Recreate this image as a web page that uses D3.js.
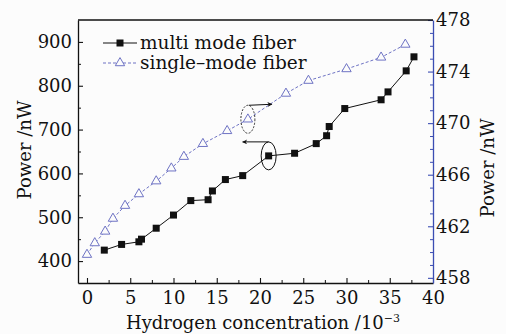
<!DOCTYPE html>
<html><head><meta charset="utf-8">
<script src="https://cdnjs.cloudflare.com/ajax/libs/d3/7.8.5/d3.min.js"></script>
<style>body{margin:0;background:#fcfcfc;} svg{display:block;font-family:"DejaVu Serif",serif;}</style>
</head><body><svg id="c" width="506" height="334"></svg>
<script>
const multiX = [2, 4, 6, 6.3, 8, 10, 12, 14, 14.5, 16, 18, 21, 24, 26.5, 27.7, 28, 29.8, 34, 34.8, 36.9, 37.8];
const multiY = [425, 438, 444, 450, 475, 505, 538, 540, 560, 586, 595, 640, 646, 668, 686, 707, 748, 768, 786, 834, 866];
const singleX = [0, 0.9, 2.1, 3.0, 4.4, 6.0, 8.0, 9.75, 11.2, 13.4, 16.2, 18.6, 23.0, 25.6, 30.0, 34.0, 36.8];
const singleY = [459.8, 460.7, 461.6, 462.6, 463.6, 464.5, 465.5, 466.5, 467.4, 468.4, 469.4, 470.3, 472.3, 473.3, 474.2, 475.1, 476.1];
const xTicks = [0, 5, 10, 15, 20, 25, 30, 35, 40];
const leftTicks = [400, 500, 600, 700, 800, 900];
const rightTicks = [458, 462, 466, 470, 474, 478];
const legendLabels = ["multi mode fiber", "single\u2013mode fiber"];
const xTitle = "Hydrogen concentration /10";
const yTitle = "Power /nW";

const L = 78, R = 433, T = 20, B = 283;
const blue = "#6e73c4", axisBlue = "#3b4db3";
const svg = d3.select("#c");
const x = d3.scaleLinear().domain([-1.04, 40]).range([L, R]);
const yL = d3.scaleLinear().domain([350, 950]).range([B, T]);
const yR = d3.scaleLinear().domain([457.6, 478]).range([B, T]);

const fs = 18;
const xMinor = d3.range(2.5, 40, 5);
const lMinor = d3.range(450, 950, 100);
const rMinor = d3.range(459, 478, 1).filter(v => (v - 458) % 4 !== 0);

function styleAxis(g, color) {
  g.select(".domain").attr("stroke", color).attr("stroke-width", 1.3);
  g.selectAll(".tick line").attr("stroke", color).attr("stroke-width", 1.1);
  g.selectAll(".tick text").attr("fill", "#111").attr("font-size", fs).attr("font-family", "DejaVu Serif");
}
const gx = svg.append("g").attr("transform", `translate(0,${B})`)
  .call(d3.axisBottom(x).tickValues(xTicks).tickSizeInner(-5).tickSizeOuter(0).tickPadding(8).tickFormat(d3.format("d")));
styleAxis(gx, "#111");
svg.append("g").attr("transform", `translate(0,${B})`)
  .call(d3.axisBottom(x).tickValues(xMinor).tickSizeInner(-3).tickSizeOuter(0).tickFormat(""))
  .call(g => { g.select(".domain").remove(); g.selectAll("line").attr("stroke", "#111"); });
const gl = svg.append("g").attr("transform", `translate(${L},0)`)
  .call(d3.axisLeft(yL).tickValues(leftTicks).tickSizeInner(-5).tickSizeOuter(0).tickPadding(6).tickFormat(d3.format("d")));
styleAxis(gl, "#111");
svg.append("g").attr("transform", `translate(${L},0)`)
  .call(d3.axisLeft(yL).tickValues(lMinor).tickSizeInner(-3).tickSizeOuter(0).tickFormat(""))
  .call(g => { g.select(".domain").remove(); g.selectAll("line").attr("stroke", "#111"); });
const gr = svg.append("g").attr("transform", `translate(${R},0)`)
  .call(d3.axisRight(yR).tickValues(rightTicks).tickSizeInner(-5).tickSizeOuter(0).tickPadding(3).tickFormat(d3.format("d")));
styleAxis(gr, axisBlue);
svg.append("g").attr("transform", `translate(${R},0)`)
  .call(d3.axisRight(yR).tickValues(rMinor).tickSizeInner(-3).tickSizeOuter(0).tickFormat(""))
  .call(g => { g.select(".domain").remove(); g.selectAll("line").attr("stroke", axisBlue); });
svg.append("line").attr("x1", L).attr("x2", R).attr("y1", T).attr("y2", T).attr("stroke", "#111").attr("stroke-width", 1.3);

svg.append("text").attr("transform", `translate(31,150) rotate(-90)`).attr("text-anchor", "middle")
  .attr("font-size", fs).attr("fill", "#111").text(yTitle);
svg.append("text").attr("transform", `translate(494,168) rotate(-90)`).attr("text-anchor", "middle")
  .attr("font-size", fs).attr("fill", "#111").text(yTitle);
const xt = svg.append("text").attr("x", 263).attr("y", 329).attr("text-anchor", "middle").attr("font-size", fs).attr("fill", "#111");
xt.append("tspan").text(xTitle);
xt.append("tspan").attr("dy", -7).attr("font-size", 11).text("\u22123");

const single = singleX.map((v, i) => [v, singleY[i]]);
svg.append("path").datum(single).attr("fill", "none").attr("stroke", blue).attr("stroke-width", 1).attr("stroke-dasharray", "3,2")
  .attr("d", d3.line().x(d => x(d[0])).y(d => yR(d[1])));
const tri = d3.symbol().type(d3.symbolTriangle).size(38);
svg.selectAll(".tri").data(single).enter().append("path")
  .attr("transform", d => `translate(${x(d[0])},${yR(d[1])})`).attr("d", tri)
  .attr("fill", "#fcfcfc").attr("stroke", blue).attr("stroke-width", 1);

const multi = multiX.map((v, i) => [v, multiY[i]]);
svg.append("path").datum(multi).attr("fill", "none").attr("stroke", "#111").attr("stroke-width", 1)
  .attr("d", d3.line().x(d => x(d[0])).y(d => yL(d[1])));
svg.selectAll(".sq").data(multi).enter().append("rect")
  .attr("x", d => x(d[0]) - 3.5).attr("y", d => yL(d[1]) - 3.5).attr("width", 7).attr("height", 7).attr("fill", "#111");

const defs = svg.append("defs");
defs.append("marker").attr("id", "ah").attr("viewBox", "0 0 10 10").attr("refX", 9).attr("refY", 5)
  .attr("markerWidth", 10).attr("markerHeight", 5).attr("orient", "auto")
  .append("path").attr("d", "M0,0 L10,5 L0,10 L3,5 Z").attr("fill", "#111");
const aS = single[11], aM = multi[11];
svg.append("ellipse").attr("cx", x(aS[0])).attr("cy", yR(aS[1])).attr("rx", 7).attr("ry", 14)
  .attr("fill", "none").attr("stroke", "#333").attr("stroke-dasharray", "2,1.5");
svg.append("line").attr("x1", x(aS[0]) + 1).attr("y1", yR(aS[1]) - 14).attr("x2", x(aS[0]) + 24).attr("y2", yR(aS[1]) - 15)
  .attr("stroke", "#111").attr("stroke-width", 1).attr("marker-end", "url(#ah)");
svg.append("ellipse").attr("cx", x(aM[0])).attr("cy", yL(aM[1])).attr("rx", 7.5).attr("ry", 14)
  .attr("fill", "none").attr("stroke", "#111").attr("stroke-width", 1);
svg.append("line").attr("x1", x(aM[0])).attr("y1", yL(aM[1]) - 14).attr("x2", x(aM[0]) - 26).attr("y2", yL(aM[1]) - 14)
  .attr("stroke", "#111").attr("stroke-width", 1).attr("marker-end", "url(#ah)");

const lg = svg.append("g");
lg.append("line").attr("x1", 103).attr("x2", 137).attr("y1", 43).attr("y2", 43).attr("stroke", "#111");
lg.append("rect").attr("x", 116.5).attr("y", 39.5).attr("width", 7).attr("height", 7).attr("fill", "#111");
lg.append("text").attr("x", 140).attr("y", 49).attr("font-size", 18.5).attr("fill", "#111").text(legendLabels[0]);
lg.append("line").attr("x1", 103).attr("x2", 137).attr("y1", 63).attr("y2", 63).attr("stroke", blue).attr("stroke-dasharray", "3,2");
lg.append("path").attr("transform", "translate(120,63)").attr("d", tri).attr("fill", "#fcfcfc").attr("stroke", blue);
lg.append("text").attr("x", 140).attr("y", 69).attr("font-size", 18.5).attr("fill", "#111").text(legendLabels[1]);
</script></body></html>
